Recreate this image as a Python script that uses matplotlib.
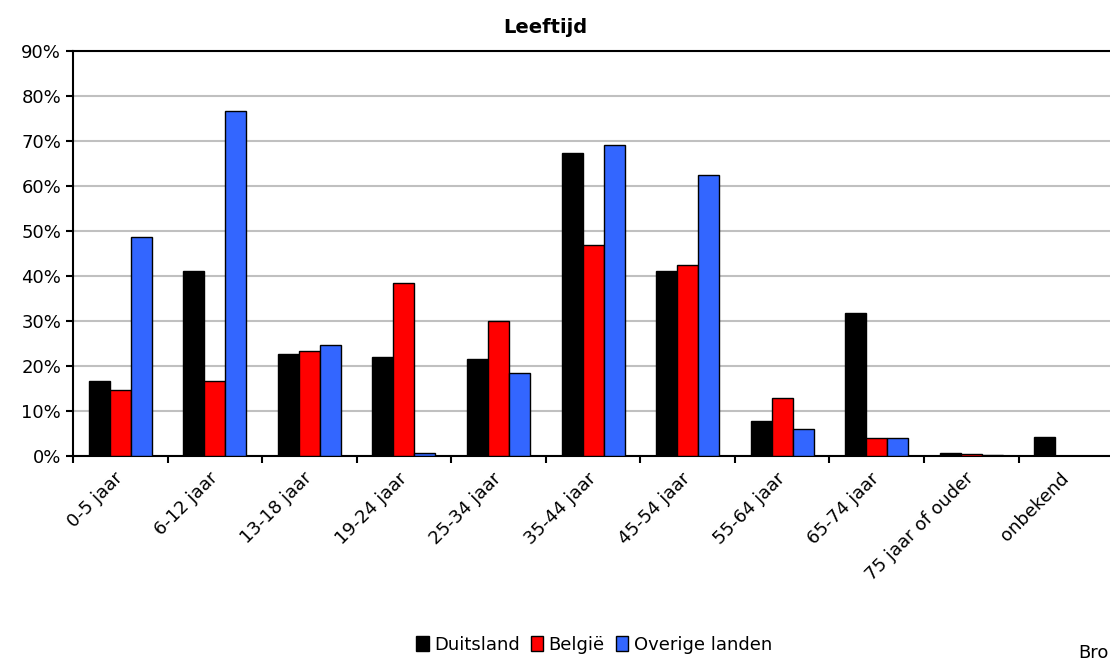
import numpy as np
import matplotlib
matplotlib.use("Agg")
import matplotlib.pyplot as plt
from matplotlib.ticker import PercentFormatter

categories = ["0-5 jaar", "6-12 jaar", "13-18 jaar", "19-24 jaar", "25-34 jaar",
              "35-44 jaar", "45-54 jaar", "55-64 jaar", "65-74 jaar",
              "75 jaar of ouder", "onbekend"]
duitsland = [16.7, 41.1, 22.6, 22.0, 21.6, 67.3, 41.1, 7.8, 31.8, 0.6, 4.2]
belgie = [14.7, 16.7, 23.3, 38.4, 30.0, 46.9, 42.4, 13.0, 4.0, 0.5, 0.0]
overige = [48.7, 76.7, 24.7, 0.6, 18.4, 69.1, 62.4, 6.0, 4.0, 0.3, 0.0]
series_names = ["Duitsland", "België", "Overige landen"]
colors = ["#000000", "#FF0000", "#3366FF"]

fig = plt.figure(figsize=(11.1, 6.59), dpi=100)
ax = fig.add_axes([0.0658, 0.308, 0.937, 0.6146])

x = np.arange(len(categories))
w = 0.222
for i, (vals, name, c) in enumerate(zip([duitsland, belgie, overige], series_names, colors)):
    ax.bar(x + (i - 1) * w, vals, width=w, color=c, edgecolor="black",
           linewidth=1.0, label=name, zorder=3)

ax.set_xlim(-0.5, len(categories) - 0.5)
ax.set_ylim(0, 90)
ax.set_yticks(range(0, 91, 10))
ax.yaxis.set_major_formatter(PercentFormatter(decimals=0))
ax.grid(axis="y", color="#C0C0C0", linewidth=1.5, zorder=0)

# ticks between categories, labels centred under each group
ax.set_xticks(np.arange(-0.5, len(categories), 1.0))
ax.set_xticklabels([])
ax.set_xticks(x, minor=True)
ax.set_xticklabels(categories, minor=True, rotation=45, ha="right",
                   va="center", rotation_mode="anchor", fontsize=13)
ax.tick_params(axis="x", which="minor", length=0, pad=14)
ax.tick_params(axis="x", which="major", length=5, width=1.5, direction="out")
ax.tick_params(axis="y", length=5, width=1.5, direction="out", labelsize=13)

for s in ["left", "bottom", "top"]:
    ax.spines[s].set_linewidth(1.5)
ax.spines["right"].set_visible(False)

fig.text(0.491, 0.958, "Leeftijd", ha="center", va="center",
         fontsize=14, fontweight="bold")

leg = fig.legend(loc="center", bbox_to_anchor=(0.535, 0.021), ncol=3,
                 frameon=False, handlelength=0.7, handleheight=0.9,
                 handletextpad=0.3, columnspacing=0.6, fontsize=13)

fig.text(0.971, -0.004, "Bron", ha="left", va="bottom", fontsize=13)

fig.savefig("out.png", dpi=100)
